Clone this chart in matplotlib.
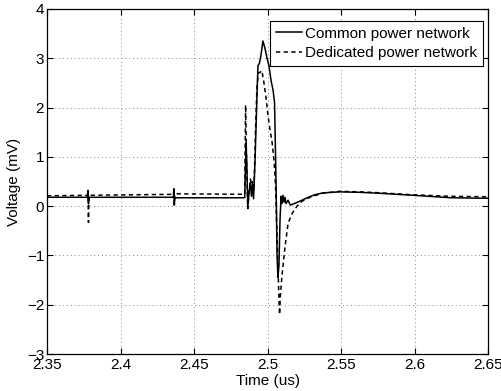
import matplotlib
matplotlib.use('Agg')
import matplotlib.pyplot as plt

plt.rcParams['font.family'] = ['Liberation Sans', 'DejaVu Sans']

# Common power network trace
t_common = [2.35, 2.3775, 2.3779, 2.3782, 2.3786, 2.436, 2.4363, 2.4366, 2.437,
            2.4845, 2.4854, 2.4859, 2.4866, 2.4875, 2.4884, 2.4891, 2.4898, 2.4905,
            2.4915, 2.4925, 2.4935, 2.4945, 2.4955, 2.4969, 2.4983, 2.4997, 2.5010,
            2.5024, 2.5038, 2.5048, 2.5058, 2.5065, 2.5071, 2.5078, 2.5085, 2.5092,
            2.5099, 2.5105, 2.5112, 2.5119, 2.5126, 2.5140, 2.5155, 2.518, 2.522,
            2.527, 2.532, 2.538, 2.549, 2.563, 2.577, 2.599, 2.625, 2.65]
v_common = [0.18, 0.18, 0.32, 0.05, 0.18, 0.18, 0.35, 0.02, 0.17,
            0.17, 1.28, 0.9, -0.02, 0.3, 0.47, 0.2, 0.45, 0.15,
            0.9, 1.9, 2.85, 2.9, 3.05, 3.35, 3.2, 3.0, 2.85,
            2.55, 2.35, 2.1, 0.5, -1.0, -1.45, -1.2, -0.3, 0.2,
            0.05, 0.22, 0.08, 0.18, 0.05, 0.12, 0.02, 0.05, 0.1,
            0.17, 0.23, 0.27, 0.29, 0.28, 0.26, 0.22, 0.17, 0.16]

# Dedicated power network trace
t_dedicated = [2.35, 2.3775, 2.3779, 2.3782, 2.3786, 2.436, 2.4363, 2.4366, 2.437,
               2.4845, 2.4851, 2.4858, 2.4866, 2.4875, 2.4884, 2.4891, 2.4898, 2.4908,
               2.4918, 2.4928, 2.4938, 2.4952, 2.4962, 2.4976, 2.4990, 2.5003, 2.5017,
               2.5031, 2.5045, 2.5055, 2.5065, 2.5075, 2.5082, 2.5088, 2.5099, 2.5119,
               2.5140, 2.5167, 2.5201, 2.5235, 2.5289, 2.537, 2.549, 2.563, 2.577,
               2.599, 2.625, 2.65]
v_dedicated = [0.21, 0.22, 0.25, -0.33, 0.22, 0.24, 0.35, 0.05, 0.25,
               0.24, 2.05, 0.8, -0.05, 0.3, 0.55, 0.35, 0.5, 0.3,
               1.5, 2.4, 2.7, 2.72, 2.75, 2.5, 2.2, 1.85, 1.55,
               1.3, 0.9, 0.4, -0.6, -1.6, -2.2, -1.8, -1.4, -0.83,
               -0.35, -0.15, 0.0, 0.1, 0.18, 0.26, 0.3, 0.29, 0.27,
               0.23, 0.2, 0.19]

x_ticks = [2.35, 2.4, 2.45, 2.5, 2.55, 2.6, 2.65]
x_labels = ['2.35', '2.4', '2.45', '2.5', '2.55', '2.6', '2.65']
y_ticks = [-3, -2, -1, 0, 1, 2, 3, 4]

fig = plt.figure(figsize=(5.01, 3.91), dpi=100)
ax = fig.add_axes([47 / 501, 37 / 391, 441 / 501, 345 / 391])

ax.plot(t_common, v_common, color='black', linestyle='-', linewidth=1.1,
        label='Common power network')
ax.plot(t_dedicated, v_dedicated, color='black', linestyle='--', linewidth=1.1,
        dashes=(2.8, 2.2), label='Dedicated power network')

ax.set_xlim(2.35, 2.65)
ax.set_ylim(-3, 4)
ax.set_xticks(x_ticks)
ax.set_xticklabels(x_labels)
ax.set_yticks(y_ticks)
ax.tick_params(direction='in', top=True, right=True, length=4, width=0.8,
               labelsize=11)
ax.tick_params(axis='x', pad=3)
ax.tick_params(axis='y', pad=2)
ax.grid(True, linestyle=(0, (1, 3)), color='#888888', linewidth=0.7)
for s in ax.spines.values():
    s.set_linewidth(0.9)

ax.set_xlabel('Time (us)', fontsize=11, labelpad=1)
ax.set_ylabel('Voltage (mV)', fontsize=11, labelpad=4)

leg = ax.legend(loc='upper right', bbox_to_anchor=(0.988, 0.966), borderaxespad=0,
                fontsize=11, fancybox=False, framealpha=1, edgecolor='black',
                handlelength=1.7, handletextpad=0.15, borderpad=0.4, labelspacing=0.35)
leg.get_frame().set_linewidth(0.8)

fig.savefig('out.png', dpi=100)
